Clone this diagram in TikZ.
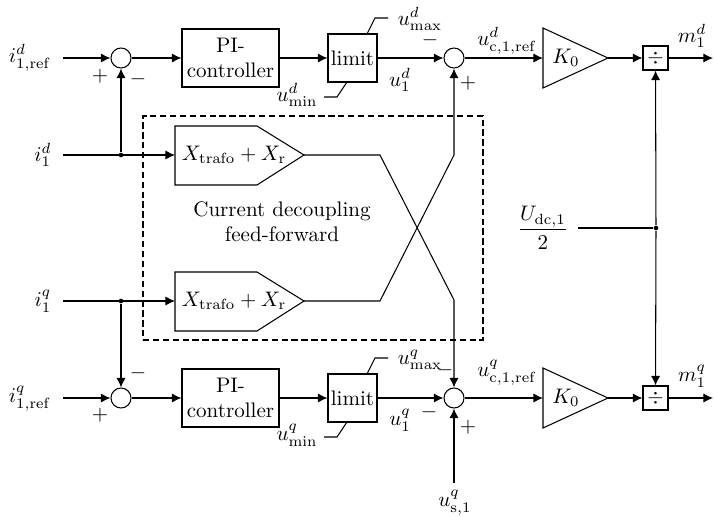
\documentclass[tikz,border=0pt]{standalone}
\usetikzlibrary{arrows.meta}
\def\pxu{0.475pt}
\begin{document}
\begin{tikzpicture}[x=0.475pt,y=-0.475pt, line width=0.5pt,
  >={Latex[length=4.6pt,width=4.4pt]},
  sumc/.style={circle, draw, minimum size=20*\pxu, inner sep=0pt},
  pibox/.style={draw, align=center, inner sep=0pt, minimum width=97*\pxu, minimum height=58*\pxu},
  limbox/.style={draw, inner sep=0pt, minimum width=49*\pxu, minimum height=48*\pxu},
  divbox/.style={draw, inner sep=0pt, minimum width=25*\pxu, minimum height=24*\pxu},
  lbl/.style={inner sep=0pt},
  dot/.style={circle, fill, inner sep=0pt, minimum size=2.2pt},
  dashbox/.style={draw, dash pattern=on 3pt off 1.7pt}]
\useasboundingbox (0,0) rectangle (714,516);

% ---------- d-axis row ----------
\node[lbl] (ird) at (30,58) {$i^d_{1,\mathrm{ref}}$};
\coordinate (irdS) at (63,58);
\node[sumc] (s1) at (121,58) {};
\node[pibox] (pi1) at (230.5,58) {PI-\\controller};
\node[limbox] (lim1) at (352.5,58) {limit};
\node[sumc] (s2) at (454,58) {};
\draw (543,28) -- (608,58) -- (543,88) -- cycle;
\coordinate (k1in) at (543,58);
\coordinate (k1out) at (608,58);
\node[lbl] (k1) at (566,58) {$K_0$};
\node[divbox] (div1) at (655.5,58) {$\div$};
\coordinate (out1) at (713,58);
\node[lbl] (m1d) at (692,36) {$m^d_1$};

\draw[->] (irdS) -- (s1);
\draw[->] (s1) -- (pi1);
\draw[->] (pi1) -- (lim1);
\draw[->] (lim1) -- (s2);
\draw[->] (s2) -- (k1in);
\draw[->] (k1out) -- (div1);
\draw[->] (div1) -- (out1);

\node[lbl] at (100,76) {$+$};
\node[lbl] at (138,79) {$-$};
\node[lbl] at (430,40) {$-$};
\node[lbl] at (468,83) {$+$};
\node[lbl] (ucd) at (507,41) {$u^d_{\mathrm{c},1,\mathrm{ref}}$};
\node[lbl] (u1d) at (400,80) {$u^d_1$};
\node[lbl] (umaxd) at (420,19) {$u^d_{\max}$};
\node[lbl] (umind) at (297,95) {$u^d_{\min}$};
\coordinate (lt1) at (367,34);
\coordinate (lb1) at (347,82);
\draw (lt1) -- (375,18) -- (388,18);
\draw (lb1) -- (337,97) -- (324,97);

% ---------- feed-forward ----------
\node[lbl] (i1d) at (43,155) {$i^d_1$};
\coordinate (i1dS) at (63,155);
\node[dot] (j1) at (121,155) {};
\draw (175,126) -- (257,126) -- (304,155) -- (257,185) -- (175,185) -- cycle;
\coordinate (x1in) at (175,155);
\coordinate (x1out) at (304,155);
\node[lbl] (x1) at (234,155) {$X_{\mathrm{trafo}}+X_{\mathrm{r}}$};
\draw[->] (i1dS) -- (x1in);
\draw[->] (j1) -- (s1);

\node[lbl] (i1q) at (43,301) {$i^q_1$};
\coordinate (i1qS) at (63,301);
\node[dot] (j2) at (121,301) {};
\draw (175,272) -- (257,272) -- (304,301) -- (257,331) -- (175,331) -- cycle;
\coordinate (x2in) at (175,301);
\coordinate (x2out) at (304,301);
\node[lbl] (x2) at (234,301) {$X_{\mathrm{trafo}}+X_{\mathrm{r}}$};
\draw[->] (i1qS) -- (x2in);

\node[dashbox, minimum width=340*\pxu, minimum height=224*\pxu] (ff) at (313,228) {};
\node[lbl, align=center] (fftxt) at (282,222) {Current decoupling\\feed-forward};

% ---------- q-axis row ----------
\node[lbl] (irq) at (30,399) {$i^q_{1,\mathrm{ref}}$};
\coordinate (irqS) at (63,398);
\node[sumc] (s3) at (121,398) {};
\node[pibox] (pi2) at (230.5,398) {PI-\\controller};
\node[limbox] (lim2) at (352.5,398) {limit};
\node[sumc] (s4) at (454,398) {};
\draw (543,368) -- (608,398) -- (543,428) -- cycle;
\coordinate (k2in) at (543,398);
\coordinate (k2out) at (608,398);
\node[lbl] (k2) at (566,398) {$K_0$};
\node[divbox] (div2) at (655.5,398) {$\div$};
\coordinate (out2) at (713,398);
\node[lbl] (m1q) at (692,376) {$m^q_1$};

\draw[->] (irqS) -- (s3);
\draw[->] (s3) -- (pi2);
\draw[->] (pi2) -- (lim2);
\draw[->] (lim2) -- (s4);
\draw[->] (s4) -- (k2in);
\draw[->] (k2out) -- (div2);
\draw[->] (div2) -- (out2);
\draw[->] (j2) -- (s3);

\node[lbl] at (138,373) {$-$};
\node[lbl] at (100,415) {$+$};
\node[lbl] at (445,370) {$-$};
\node[lbl] at (429,412) {$-$};
\node[lbl] at (468,427) {$+$};
\node[lbl] (ucq) at (507,373) {$u^q_{\mathrm{c},1,\mathrm{ref}}$};
\node[lbl] (u1q) at (400,420) {$u^q_1$};
\node[lbl] (umaxq) at (420,360) {$u^q_{\max}$};
\node[lbl] (uminq) at (297,435) {$u^q_{\min}$};
\coordinate (lt2) at (367,374);
\coordinate (lb2) at (347,422);
\draw (lt2) -- (375,358) -- (388,358);
\draw (lb2) -- (337,437) -- (324,437);

\node[lbl] (usq) at (455,503) {$u^q_{\mathrm{s},1}$};
\coordinate (usqS) at (454,483);
\draw[->] (usqS) -- (s4);

% ---------- crossing ----------
\draw[->] (x1out) -- (380,155) -- (454,300) -- (s4);
\draw[->] (x2out) -- (380,301) -- (454,155) -- (s2);

% ---------- Udc/2 ----------
\node[lbl] (udc) at (543,228) {$\displaystyle\frac{U_{\mathrm{dc},1}}{2}$};
\coordinate (udcS) at (578,228);
\node[dot] (j3) at (656,228) {};
\draw (udcS) -- (j3);
\draw[->] (j3) -- (div1);
\draw[->] (j3) -- (div2);
\end{tikzpicture}
\end{document}
